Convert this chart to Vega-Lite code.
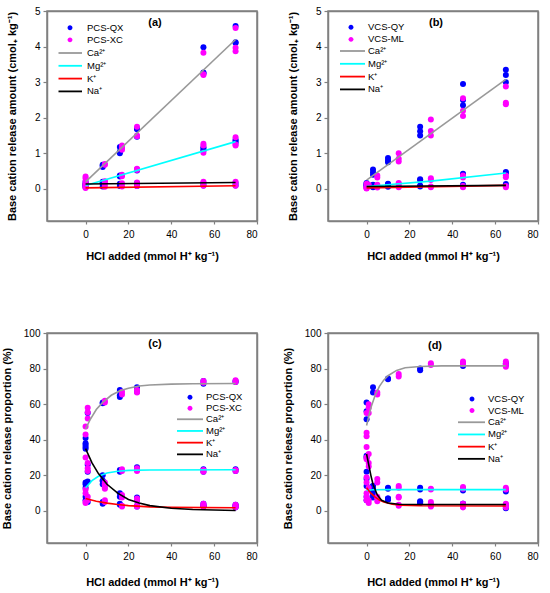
{
  "$schema": "https://vega.github.io/schema/vega-lite/v6.json",
  "padding": {"left": 0, "top": 5, "right": 2, "bottom": 2},
  "background": "white",
  "config": {
    "font": "Liberation Sans",
    "view": {"stroke": "#808080", "strokeWidth": 1.5},
    "axis": {
      "domain": true, "domainColor": "#808080", "domainWidth": 1.5, "grid": false, "ticks": true, "tickColor": "#808080", "tickWidth": 1.2, "tickSize": 4,
      "labelFont": "Liberation Sans", "labelFontSize": 10, "labelColor": "#000000", "labelPadding": 3,
      "titleFont": "Liberation Sans", "titleFontSize": 11, "titleFontWeight": "bold", "titleColor": "#000000"
    },
    "legend": {
      "orient": "none", "padding": 0, "labelFont": "Liberation Sans", "labelFontSize": 9.5, "labelColor": "#000000", "labelOffset": 4
    },
    "title": {"font": "Liberation Sans", "fontSize": 11, "fontWeight": "bold", "anchor": "middle"}
  },
  "columns": 2,
  "spacing": {"row": 65, "column": 22},
  "resolve": {
    "scale": {"color": "independent", "stroke": "independent", "x": "independent", "y": "independent"},
    "legend": {"color": "independent", "stroke": "independent"}
  },
  "datasets": {
    "pts": [
      {"panel":"a","sample":"PCS-QX","ion":"Ca²⁺","x":0,"y":0.15},{"panel":"a","sample":"PCS-QX","ion":"Ca²⁺","x":0,"y":0.2},{"panel":"a","sample":"PCS-QX","ion":"Ca²⁺","x":0,"y":0.12},
      {"panel":"a","sample":"PCS-QX","ion":"Ca²⁺","x":8,"y":0.62},{"panel":"a","sample":"PCS-QX","ion":"Ca²⁺","x":8,"y":0.66},{"panel":"a","sample":"PCS-QX","ion":"Ca²⁺","x":8,"y":0.68},
      {"panel":"a","sample":"PCS-QX","ion":"Ca²⁺","x":16,"y":1.18},{"panel":"a","sample":"PCS-QX","ion":"Ca²⁺","x":16,"y":1.0},{"panel":"a","sample":"PCS-QX","ion":"Ca²⁺","x":16,"y":1.05},
      {"panel":"a","sample":"PCS-QX","ion":"Ca²⁺","x":24,"y":1.68},{"panel":"a","sample":"PCS-QX","ion":"Ca²⁺","x":24,"y":1.47},{"panel":"a","sample":"PCS-QX","ion":"Ca²⁺","x":24,"y":1.7},
      {"panel":"a","sample":"PCS-QX","ion":"Ca²⁺","x":55,"y":3.98},{"panel":"a","sample":"PCS-QX","ion":"Ca²⁺","x":55,"y":3.27},{"panel":"a","sample":"PCS-QX","ion":"Ca²⁺","x":55,"y":3.25},
      {"panel":"a","sample":"PCS-QX","ion":"Ca²⁺","x":70,"y":4.58},{"panel":"a","sample":"PCS-QX","ion":"Ca²⁺","x":70,"y":4.1},{"panel":"a","sample":"PCS-QX","ion":"Ca²⁺","x":70,"y":4.12},
      {"panel":"a","sample":"PCS-QX","ion":"Mg²⁺","x":0,"y":0.1},{"panel":"a","sample":"PCS-QX","ion":"Mg²⁺","x":0,"y":0.08},
      {"panel":"a","sample":"PCS-QX","ion":"Mg²⁺","x":8,"y":0.2},{"panel":"a","sample":"PCS-QX","ion":"Mg²⁺","x":8,"y":0.18},
      {"panel":"a","sample":"PCS-QX","ion":"Mg²⁺","x":16,"y":0.38},{"panel":"a","sample":"PCS-QX","ion":"Mg²⁺","x":16,"y":0.35},
      {"panel":"a","sample":"PCS-QX","ion":"Mg²⁺","x":24,"y":0.55},{"panel":"a","sample":"PCS-QX","ion":"Mg²⁺","x":24,"y":0.52},
      {"panel":"a","sample":"PCS-QX","ion":"Mg²⁺","x":55,"y":1.17},{"panel":"a","sample":"PCS-QX","ion":"Mg²⁺","x":55,"y":1.12},{"panel":"a","sample":"PCS-QX","ion":"Mg²⁺","x":55,"y":1.08},
      {"panel":"a","sample":"PCS-QX","ion":"Mg²⁺","x":70,"y":1.35},{"panel":"a","sample":"PCS-QX","ion":"Mg²⁺","x":70,"y":1.3},{"panel":"a","sample":"PCS-QX","ion":"Mg²⁺","x":70,"y":1.38},
      {"panel":"a","sample":"PCS-QX","ion":"K⁺","x":0,"y":0.05},{"panel":"a","sample":"PCS-QX","ion":"K⁺","x":8,"y":0.07},{"panel":"a","sample":"PCS-QX","ion":"K⁺","x":16,"y":0.08},
      {"panel":"a","sample":"PCS-QX","ion":"K⁺","x":24,"y":0.08},{"panel":"a","sample":"PCS-QX","ion":"K⁺","x":55,"y":0.1},{"panel":"a","sample":"PCS-QX","ion":"K⁺","x":70,"y":0.1},
      {"panel":"a","sample":"PCS-QX","ion":"Na⁺","x":0,"y":0.13},{"panel":"a","sample":"PCS-QX","ion":"Na⁺","x":8,"y":0.15},{"panel":"a","sample":"PCS-QX","ion":"Na⁺","x":16,"y":0.15},
      {"panel":"a","sample":"PCS-QX","ion":"Na⁺","x":24,"y":0.17},{"panel":"a","sample":"PCS-QX","ion":"Na⁺","x":55,"y":0.17},{"panel":"a","sample":"PCS-QX","ion":"Na⁺","x":70,"y":0.17},
      {"panel":"a","sample":"PCS-XC","ion":"Ca²⁺","x":0,"y":0.35},{"panel":"a","sample":"PCS-XC","ion":"Ca²⁺","x":0,"y":0.3},{"panel":"a","sample":"PCS-XC","ion":"Ca²⁺","x":0,"y":0.22},
      {"panel":"a","sample":"PCS-XC","ion":"Ca²⁺","x":9,"y":0.7},{"panel":"a","sample":"PCS-XC","ion":"Ca²⁺","x":9,"y":0.68},
      {"panel":"a","sample":"PCS-XC","ion":"Ca²⁺","x":17,"y":1.22},{"panel":"a","sample":"PCS-XC","ion":"Ca²⁺","x":17,"y":1.1},{"panel":"a","sample":"PCS-XC","ion":"Ca²⁺","x":17,"y":1.15},
      {"panel":"a","sample":"PCS-XC","ion":"Ca²⁺","x":24,"y":1.75},{"panel":"a","sample":"PCS-XC","ion":"Ca²⁺","x":24,"y":1.5},{"panel":"a","sample":"PCS-XC","ion":"Ca²⁺","x":24,"y":1.48},
      {"panel":"a","sample":"PCS-XC","ion":"Ca²⁺","x":55,"y":3.83},{"panel":"a","sample":"PCS-XC","ion":"Ca²⁺","x":55,"y":3.22},{"panel":"a","sample":"PCS-XC","ion":"Ca²⁺","x":55,"y":3.2},
      {"panel":"a","sample":"PCS-XC","ion":"Ca²⁺","x":70,"y":4.52},{"panel":"a","sample":"PCS-XC","ion":"Ca²⁺","x":70,"y":3.97},{"panel":"a","sample":"PCS-XC","ion":"Ca²⁺","x":70,"y":3.87},
      {"panel":"a","sample":"PCS-XC","ion":"Mg²⁺","x":0,"y":0.12},{"panel":"a","sample":"PCS-XC","ion":"Mg²⁺","x":0,"y":0.15},
      {"panel":"a","sample":"PCS-XC","ion":"Mg²⁺","x":9,"y":0.22},{"panel":"a","sample":"PCS-XC","ion":"Mg²⁺","x":9,"y":0.2},
      {"panel":"a","sample":"PCS-XC","ion":"Mg²⁺","x":17,"y":0.4},{"panel":"a","sample":"PCS-XC","ion":"Mg²⁺","x":17,"y":0.36},
      {"panel":"a","sample":"PCS-XC","ion":"Mg²⁺","x":24,"y":0.57},{"panel":"a","sample":"PCS-XC","ion":"Mg²⁺","x":24,"y":0.53},
      {"panel":"a","sample":"PCS-XC","ion":"Mg²⁺","x":55,"y":1.27},{"panel":"a","sample":"PCS-XC","ion":"Mg²⁺","x":55,"y":1.02},{"panel":"a","sample":"PCS-XC","ion":"Mg²⁺","x":55,"y":1.22},
      {"panel":"a","sample":"PCS-XC","ion":"Mg²⁺","x":70,"y":1.45},{"panel":"a","sample":"PCS-XC","ion":"Mg²⁺","x":70,"y":1.22},{"panel":"a","sample":"PCS-XC","ion":"Mg²⁺","x":70,"y":1.25},
      {"panel":"a","sample":"PCS-XC","ion":"K⁺","x":0,"y":0.03},{"panel":"a","sample":"PCS-XC","ion":"K⁺","x":0,"y":0.05},{"panel":"a","sample":"PCS-XC","ion":"K⁺","x":9,"y":0.06},
      {"panel":"a","sample":"PCS-XC","ion":"K⁺","x":17,"y":0.07},{"panel":"a","sample":"PCS-XC","ion":"K⁺","x":24,"y":0.08},{"panel":"a","sample":"PCS-XC","ion":"K⁺","x":55,"y":0.09},{"panel":"a","sample":"PCS-XC","ion":"K⁺","x":70,"y":0.09},
      {"panel":"a","sample":"PCS-XC","ion":"Na⁺","x":0,"y":0.1},{"panel":"a","sample":"PCS-XC","ion":"Na⁺","x":9,"y":0.14},{"panel":"a","sample":"PCS-XC","ion":"Na⁺","x":17,"y":0.16},
      {"panel":"a","sample":"PCS-XC","ion":"Na⁺","x":24,"y":0.18},{"panel":"a","sample":"PCS-XC","ion":"Na⁺","x":55,"y":0.2},{"panel":"a","sample":"PCS-XC","ion":"Na⁺","x":70,"y":0.2},

      {"panel":"b","sample":"VCS-QY","ion":"Ca²⁺","x":0,"y":0.17},{"panel":"b","sample":"VCS-QY","ion":"Ca²⁺","x":0,"y":0.12},
      {"panel":"b","sample":"VCS-QY","ion":"Ca²⁺","x":3,"y":0.55},{"panel":"b","sample":"VCS-QY","ion":"Ca²⁺","x":3,"y":0.47},{"panel":"b","sample":"VCS-QY","ion":"Ca²⁺","x":3,"y":0.4},
      {"panel":"b","sample":"VCS-QY","ion":"Ca²⁺","x":10,"y":0.87},{"panel":"b","sample":"VCS-QY","ion":"Ca²⁺","x":10,"y":0.8},{"panel":"b","sample":"VCS-QY","ion":"Ca²⁺","x":10,"y":0.75},
      {"panel":"b","sample":"VCS-QY","ion":"Ca²⁺","x":25,"y":1.75},{"panel":"b","sample":"VCS-QY","ion":"Ca²⁺","x":25,"y":1.62},{"panel":"b","sample":"VCS-QY","ion":"Ca²⁺","x":25,"y":1.5},
      {"panel":"b","sample":"VCS-QY","ion":"Ca²⁺","x":45,"y":2.95},{"panel":"b","sample":"VCS-QY","ion":"Ca²⁺","x":45,"y":2.5},{"panel":"b","sample":"VCS-QY","ion":"Ca²⁺","x":45,"y":2.35},
      {"panel":"b","sample":"VCS-QY","ion":"Ca²⁺","x":65,"y":3.35},{"panel":"b","sample":"VCS-QY","ion":"Ca²⁺","x":65,"y":3.2},{"panel":"b","sample":"VCS-QY","ion":"Ca²⁺","x":65,"y":3.0},
      {"panel":"b","sample":"VCS-QY","ion":"Mg²⁺","x":0,"y":0.1},{"panel":"b","sample":"VCS-QY","ion":"Mg²⁺","x":0,"y":0.15},
      {"panel":"b","sample":"VCS-QY","ion":"Mg²⁺","x":3,"y":0.1},{"panel":"b","sample":"VCS-QY","ion":"Mg²⁺","x":3,"y":0.12},
      {"panel":"b","sample":"VCS-QY","ion":"Mg²⁺","x":10,"y":0.15},{"panel":"b","sample":"VCS-QY","ion":"Mg²⁺","x":10,"y":0.13},
      {"panel":"b","sample":"VCS-QY","ion":"Mg²⁺","x":25,"y":0.27},{"panel":"b","sample":"VCS-QY","ion":"Mg²⁺","x":25,"y":0.25},
      {"panel":"b","sample":"VCS-QY","ion":"Mg²⁺","x":45,"y":0.43},{"panel":"b","sample":"VCS-QY","ion":"Mg²⁺","x":45,"y":0.4},
      {"panel":"b","sample":"VCS-QY","ion":"Mg²⁺","x":65,"y":0.48},{"panel":"b","sample":"VCS-QY","ion":"Mg²⁺","x":65,"y":0.45},
      {"panel":"b","sample":"VCS-QY","ion":"K⁺","x":0,"y":0.05},{"panel":"b","sample":"VCS-QY","ion":"K⁺","x":3,"y":0.05},{"panel":"b","sample":"VCS-QY","ion":"K⁺","x":10,"y":0.06},
      {"panel":"b","sample":"VCS-QY","ion":"K⁺","x":25,"y":0.07},{"panel":"b","sample":"VCS-QY","ion":"K⁺","x":45,"y":0.08},{"panel":"b","sample":"VCS-QY","ion":"K⁺","x":65,"y":0.1},
      {"panel":"b","sample":"VCS-QY","ion":"Na⁺","x":0,"y":0.08},{"panel":"b","sample":"VCS-QY","ion":"Na⁺","x":3,"y":0.07},{"panel":"b","sample":"VCS-QY","ion":"Na⁺","x":10,"y":0.08},
      {"panel":"b","sample":"VCS-QY","ion":"Na⁺","x":25,"y":0.1},{"panel":"b","sample":"VCS-QY","ion":"Na⁺","x":45,"y":0.12},{"panel":"b","sample":"VCS-QY","ion":"Na⁺","x":65,"y":0.14},
      {"panel":"b","sample":"VCS-ML","ion":"Ca²⁺","x":0,"y":0.15},{"panel":"b","sample":"VCS-ML","ion":"Ca²⁺","x":0,"y":0.08},{"panel":"b","sample":"VCS-ML","ion":"Ca²⁺","x":1,"y":0.12},
      {"panel":"b","sample":"VCS-ML","ion":"Ca²⁺","x":5,"y":0.38},{"panel":"b","sample":"VCS-ML","ion":"Ca²⁺","x":5,"y":0.32},
      {"panel":"b","sample":"VCS-ML","ion":"Ca²⁺","x":15,"y":1.0},{"panel":"b","sample":"VCS-ML","ion":"Ca²⁺","x":15,"y":0.85},{"panel":"b","sample":"VCS-ML","ion":"Ca²⁺","x":15,"y":0.77},
      {"panel":"b","sample":"VCS-ML","ion":"Ca²⁺","x":30,"y":1.95},{"panel":"b","sample":"VCS-ML","ion":"Ca²⁺","x":30,"y":1.63},{"panel":"b","sample":"VCS-ML","ion":"Ca²⁺","x":30,"y":1.5},
      {"panel":"b","sample":"VCS-ML","ion":"Ca²⁺","x":45,"y":2.55},{"panel":"b","sample":"VCS-ML","ion":"Ca²⁺","x":45,"y":2.2},{"panel":"b","sample":"VCS-ML","ion":"Ca²⁺","x":45,"y":2.05},
      {"panel":"b","sample":"VCS-ML","ion":"Ca²⁺","x":65,"y":2.88},{"panel":"b","sample":"VCS-ML","ion":"Ca²⁺","x":65,"y":2.42},{"panel":"b","sample":"VCS-ML","ion":"Ca²⁺","x":65,"y":2.38},
      {"panel":"b","sample":"VCS-ML","ion":"Mg²⁺","x":0,"y":0.05},{"panel":"b","sample":"VCS-ML","ion":"Mg²⁺","x":0,"y":0.03},
      {"panel":"b","sample":"VCS-ML","ion":"Mg²⁺","x":5,"y":0.1},{"panel":"b","sample":"VCS-ML","ion":"Mg²⁺","x":5,"y":0.12},
      {"panel":"b","sample":"VCS-ML","ion":"Mg²⁺","x":15,"y":0.17},{"panel":"b","sample":"VCS-ML","ion":"Mg²⁺","x":15,"y":0.15},
      {"panel":"b","sample":"VCS-ML","ion":"Mg²⁺","x":30,"y":0.3},{"panel":"b","sample":"VCS-ML","ion":"Mg²⁺","x":30,"y":0.25},
      {"panel":"b","sample":"VCS-ML","ion":"Mg²⁺","x":45,"y":0.38},{"panel":"b","sample":"VCS-ML","ion":"Mg²⁺","x":45,"y":0.32},
      {"panel":"b","sample":"VCS-ML","ion":"Mg²⁺","x":65,"y":0.38},{"panel":"b","sample":"VCS-ML","ion":"Mg²⁺","x":65,"y":0.33},
      {"panel":"b","sample":"VCS-ML","ion":"K⁺","x":0,"y":0.01},{"panel":"b","sample":"VCS-ML","ion":"K⁺","x":5,"y":0.04},{"panel":"b","sample":"VCS-ML","ion":"K⁺","x":15,"y":0.05},
      {"panel":"b","sample":"VCS-ML","ion":"K⁺","x":30,"y":0.05},{"panel":"b","sample":"VCS-ML","ion":"K⁺","x":45,"y":0.05},{"panel":"b","sample":"VCS-ML","ion":"K⁺","x":65,"y":0.05},
      {"panel":"b","sample":"VCS-ML","ion":"Na⁺","x":0,"y":0.03},{"panel":"b","sample":"VCS-ML","ion":"Na⁺","x":5,"y":0.06},{"panel":"b","sample":"VCS-ML","ion":"Na⁺","x":15,"y":0.07},
      {"panel":"b","sample":"VCS-ML","ion":"Na⁺","x":30,"y":0.07},{"panel":"b","sample":"VCS-ML","ion":"Na⁺","x":45,"y":0.08},{"panel":"b","sample":"VCS-ML","ion":"Na⁺","x":65,"y":0.08},

      {"panel":"c","sample":"PCS-QX","ion":"Ca²⁺","x":0,"y":41},{"panel":"c","sample":"PCS-QX","ion":"Ca²⁺","x":0,"y":38},{"panel":"c","sample":"PCS-QX","ion":"Ca²⁺","x":0,"y":36},
      {"panel":"c","sample":"PCS-QX","ion":"Ca²⁺","x":1,"y":55},{"panel":"c","sample":"PCS-QX","ion":"Ca²⁺","x":8,"y":60.5},{"panel":"c","sample":"PCS-QX","ion":"Ca²⁺","x":8,"y":61},
      {"panel":"c","sample":"PCS-QX","ion":"Ca²⁺","x":16,"y":68},{"panel":"c","sample":"PCS-QX","ion":"Ca²⁺","x":16,"y":65},{"panel":"c","sample":"PCS-QX","ion":"Ca²⁺","x":16,"y":64},
      {"panel":"c","sample":"PCS-QX","ion":"Ca²⁺","x":24,"y":69.5},{"panel":"c","sample":"PCS-QX","ion":"Ca²⁺","x":24,"y":67},
      {"panel":"c","sample":"PCS-QX","ion":"Ca²⁺","x":55,"y":73},{"panel":"c","sample":"PCS-QX","ion":"Ca²⁺","x":55,"y":71.5},
      {"panel":"c","sample":"PCS-QX","ion":"Ca²⁺","x":70,"y":73},{"panel":"c","sample":"PCS-QX","ion":"Ca²⁺","x":70,"y":72.5},
      {"panel":"c","sample":"PCS-QX","ion":"Mg²⁺","x":0,"y":16},{"panel":"c","sample":"PCS-QX","ion":"Mg²⁺","x":0,"y":15},{"panel":"c","sample":"PCS-QX","ion":"Mg²⁺","x":0,"y":13},
      {"panel":"c","sample":"PCS-QX","ion":"Mg²⁺","x":1,"y":16.5},{"panel":"c","sample":"PCS-QX","ion":"Mg²⁺","x":1,"y":22},
      {"panel":"c","sample":"PCS-QX","ion":"Mg²⁺","x":8,"y":20},{"panel":"c","sample":"PCS-QX","ion":"Mg²⁺","x":8,"y":17},
      {"panel":"c","sample":"PCS-QX","ion":"Mg²⁺","x":16,"y":23},{"panel":"c","sample":"PCS-QX","ion":"Mg²⁺","x":16,"y":22},
      {"panel":"c","sample":"PCS-QX","ion":"Mg²⁺","x":24,"y":24.5},{"panel":"c","sample":"PCS-QX","ion":"Mg²⁺","x":24,"y":23},
      {"panel":"c","sample":"PCS-QX","ion":"Mg²⁺","x":55,"y":23.5},{"panel":"c","sample":"PCS-QX","ion":"Mg²⁺","x":55,"y":22},
      {"panel":"c","sample":"PCS-QX","ion":"Mg²⁺","x":70,"y":23.5},{"panel":"c","sample":"PCS-QX","ion":"Mg²⁺","x":70,"y":22.5},
      {"panel":"c","sample":"PCS-QX","ion":"K⁺","x":0,"y":8},{"panel":"c","sample":"PCS-QX","ion":"K⁺","x":0,"y":6},{"panel":"c","sample":"PCS-QX","ion":"K⁺","x":1,"y":5},
      {"panel":"c","sample":"PCS-QX","ion":"K⁺","x":8,"y":5},{"panel":"c","sample":"PCS-QX","ion":"K⁺","x":8,"y":4},
      {"panel":"c","sample":"PCS-QX","ion":"K⁺","x":16,"y":4},{"panel":"c","sample":"PCS-QX","ion":"K⁺","x":16,"y":3.5},
      {"panel":"c","sample":"PCS-QX","ion":"K⁺","x":24,"y":3},{"panel":"c","sample":"PCS-QX","ion":"K⁺","x":24,"y":2.5},
      {"panel":"c","sample":"PCS-QX","ion":"K⁺","x":55,"y":3},{"panel":"c","sample":"PCS-QX","ion":"K⁺","x":55,"y":2.5},
      {"panel":"c","sample":"PCS-QX","ion":"K⁺","x":70,"y":2.5},{"panel":"c","sample":"PCS-QX","ion":"K⁺","x":70,"y":2},
      {"panel":"c","sample":"PCS-QX","ion":"Na⁺","x":0,"y":37},{"panel":"c","sample":"PCS-QX","ion":"Na⁺","x":0,"y":35},{"panel":"c","sample":"PCS-QX","ion":"Na⁺","x":1,"y":26},
      {"panel":"c","sample":"PCS-QX","ion":"Na⁺","x":8,"y":17},{"panel":"c","sample":"PCS-QX","ion":"Na⁺","x":8,"y":15},
      {"panel":"c","sample":"PCS-QX","ion":"Na⁺","x":16,"y":10},{"panel":"c","sample":"PCS-QX","ion":"Na⁺","x":16,"y":8},
      {"panel":"c","sample":"PCS-QX","ion":"Na⁺","x":24,"y":7.5},{"panel":"c","sample":"PCS-QX","ion":"Na⁺","x":24,"y":6},
      {"panel":"c","sample":"PCS-QX","ion":"Na⁺","x":55,"y":4},{"panel":"c","sample":"PCS-QX","ion":"Na⁺","x":55,"y":3},
      {"panel":"c","sample":"PCS-QX","ion":"Na⁺","x":70,"y":3.5},{"panel":"c","sample":"PCS-QX","ion":"Na⁺","x":70,"y":3},
      {"panel":"c","sample":"PCS-XC","ion":"Ca²⁺","x":0,"y":47.5},{"panel":"c","sample":"PCS-XC","ion":"Ca²⁺","x":0,"y":43},
      {"panel":"c","sample":"PCS-XC","ion":"Ca²⁺","x":1,"y":58},{"panel":"c","sample":"PCS-XC","ion":"Ca²⁺","x":1,"y":55.5},{"panel":"c","sample":"PCS-XC","ion":"Ca²⁺","x":1,"y":52},
      {"panel":"c","sample":"PCS-XC","ion":"Ca²⁺","x":9,"y":62},{"panel":"c","sample":"PCS-XC","ion":"Ca²⁺","x":9,"y":61},
      {"panel":"c","sample":"PCS-XC","ion":"Ca²⁺","x":17,"y":67},{"panel":"c","sample":"PCS-XC","ion":"Ca²⁺","x":17,"y":65.5},
      {"panel":"c","sample":"PCS-XC","ion":"Ca²⁺","x":24,"y":68},{"panel":"c","sample":"PCS-XC","ion":"Ca²⁺","x":24,"y":66.5},
      {"panel":"c","sample":"PCS-XC","ion":"Ca²⁺","x":55,"y":73},{"panel":"c","sample":"PCS-XC","ion":"Ca²⁺","x":55,"y":72},
      {"panel":"c","sample":"PCS-XC","ion":"Ca²⁺","x":70,"y":73.5},{"panel":"c","sample":"PCS-XC","ion":"Ca²⁺","x":70,"y":72.5},
      {"panel":"c","sample":"PCS-XC","ion":"Mg²⁺","x":0,"y":12},{"panel":"c","sample":"PCS-XC","ion":"Mg²⁺","x":0,"y":10},
      {"panel":"c","sample":"PCS-XC","ion":"Mg²⁺","x":1,"y":27},{"panel":"c","sample":"PCS-XC","ion":"Mg²⁺","x":1,"y":24},{"panel":"c","sample":"PCS-XC","ion":"Mg²⁺","x":1,"y":22.5},
      {"panel":"c","sample":"PCS-XC","ion":"Mg²⁺","x":9,"y":16},{"panel":"c","sample":"PCS-XC","ion":"Mg²⁺","x":9,"y":14},{"panel":"c","sample":"PCS-XC","ion":"Mg²⁺","x":9,"y":13},
      {"panel":"c","sample":"PCS-XC","ion":"Mg²⁺","x":17,"y":23.5},{"panel":"c","sample":"PCS-XC","ion":"Mg²⁺","x":17,"y":22.5},
      {"panel":"c","sample":"PCS-XC","ion":"Mg²⁺","x":24,"y":24},{"panel":"c","sample":"PCS-XC","ion":"Mg²⁺","x":24,"y":22.5},
      {"panel":"c","sample":"PCS-XC","ion":"Mg²⁺","x":55,"y":23},{"panel":"c","sample":"PCS-XC","ion":"Mg²⁺","x":55,"y":22},
      {"panel":"c","sample":"PCS-XC","ion":"Mg²⁺","x":70,"y":23},{"panel":"c","sample":"PCS-XC","ion":"Mg²⁺","x":70,"y":22.5},
      {"panel":"c","sample":"PCS-XC","ion":"K⁺","x":0,"y":5},{"panel":"c","sample":"PCS-XC","ion":"K⁺","x":0,"y":4.5},{"panel":"c","sample":"PCS-XC","ion":"K⁺","x":1,"y":6},
      {"panel":"c","sample":"PCS-XC","ion":"K⁺","x":9,"y":6},{"panel":"c","sample":"PCS-XC","ion":"K⁺","x":9,"y":5},
      {"panel":"c","sample":"PCS-XC","ion":"K⁺","x":17,"y":3},{"panel":"c","sample":"PCS-XC","ion":"K⁺","x":17,"y":2.5},
      {"panel":"c","sample":"PCS-XC","ion":"K⁺","x":24,"y":3},{"panel":"c","sample":"PCS-XC","ion":"K⁺","x":24,"y":2.5},
      {"panel":"c","sample":"PCS-XC","ion":"K⁺","x":55,"y":3.5},{"panel":"c","sample":"PCS-XC","ion":"K⁺","x":55,"y":2.5},
      {"panel":"c","sample":"PCS-XC","ion":"K⁺","x":70,"y":3},{"panel":"c","sample":"PCS-XC","ion":"K⁺","x":70,"y":2},
      {"panel":"c","sample":"PCS-XC","ion":"Na⁺","x":0,"y":30},{"panel":"c","sample":"PCS-XC","ion":"Na⁺","x":1,"y":8},
      {"panel":"c","sample":"PCS-XC","ion":"Na⁺","x":9,"y":15},{"panel":"c","sample":"PCS-XC","ion":"Na⁺","x":9,"y":12.5},
      {"panel":"c","sample":"PCS-XC","ion":"Na⁺","x":17,"y":9},{"panel":"c","sample":"PCS-XC","ion":"Na⁺","x":17,"y":7.5},
      {"panel":"c","sample":"PCS-XC","ion":"Na⁺","x":24,"y":7},{"panel":"c","sample":"PCS-XC","ion":"Na⁺","x":24,"y":6},
      {"panel":"c","sample":"PCS-XC","ion":"Na⁺","x":55,"y":4},{"panel":"c","sample":"PCS-XC","ion":"Na⁺","x":55,"y":3},
      {"panel":"c","sample":"PCS-XC","ion":"Na⁺","x":70,"y":3.5},{"panel":"c","sample":"PCS-XC","ion":"Na⁺","x":70,"y":2.5},

      {"panel":"d","sample":"VCS-QY","ion":"Ca²⁺","x":0,"y":61},{"panel":"d","sample":"VCS-QY","ion":"Ca²⁺","x":0,"y":56},{"panel":"d","sample":"VCS-QY","ion":"Ca²⁺","x":0,"y":51.5},
      {"panel":"d","sample":"VCS-QY","ion":"Ca²⁺","x":3,"y":69.5},{"panel":"d","sample":"VCS-QY","ion":"Ca²⁺","x":3,"y":66.5},
      {"panel":"d","sample":"VCS-QY","ion":"Ca²⁺","x":10,"y":74.5},{"panel":"d","sample":"VCS-QY","ion":"Ca²⁺","x":10,"y":74},
      {"panel":"d","sample":"VCS-QY","ion":"Ca²⁺","x":25,"y":80},{"panel":"d","sample":"VCS-QY","ion":"Ca²⁺","x":25,"y":79},
      {"panel":"d","sample":"VCS-QY","ion":"Ca²⁺","x":45,"y":82},{"panel":"d","sample":"VCS-QY","ion":"Ca²⁺","x":45,"y":81.5},
      {"panel":"d","sample":"VCS-QY","ion":"Ca²⁺","x":65,"y":83},{"panel":"d","sample":"VCS-QY","ion":"Ca²⁺","x":65,"y":82},
      {"panel":"d","sample":"VCS-QY","ion":"Mg²⁺","x":0,"y":22},{"panel":"d","sample":"VCS-QY","ion":"Mg²⁺","x":0,"y":18},{"panel":"d","sample":"VCS-QY","ion":"Mg²⁺","x":0,"y":14},
      {"panel":"d","sample":"VCS-QY","ion":"Mg²⁺","x":3,"y":14},{"panel":"d","sample":"VCS-QY","ion":"Mg²⁺","x":3,"y":12},{"panel":"d","sample":"VCS-QY","ion":"Mg²⁺","x":3,"y":11},
      {"panel":"d","sample":"VCS-QY","ion":"Mg²⁺","x":10,"y":13},{"panel":"d","sample":"VCS-QY","ion":"Mg²⁺","x":10,"y":12.5},
      {"panel":"d","sample":"VCS-QY","ion":"Mg²⁺","x":25,"y":13},{"panel":"d","sample":"VCS-QY","ion":"Mg²⁺","x":25,"y":12},
      {"panel":"d","sample":"VCS-QY","ion":"Mg²⁺","x":45,"y":12.5},{"panel":"d","sample":"VCS-QY","ion":"Mg²⁺","x":45,"y":11.5},
      {"panel":"d","sample":"VCS-QY","ion":"Mg²⁺","x":65,"y":12},{"panel":"d","sample":"VCS-QY","ion":"Mg²⁺","x":65,"y":11},
      {"panel":"d","sample":"VCS-QY","ion":"K⁺","x":0,"y":8},{"panel":"d","sample":"VCS-QY","ion":"K⁺","x":0,"y":6},
      {"panel":"d","sample":"VCS-QY","ion":"K⁺","x":3,"y":9},{"panel":"d","sample":"VCS-QY","ion":"K⁺","x":3,"y":7.5},
      {"panel":"d","sample":"VCS-QY","ion":"K⁺","x":10,"y":7},{"panel":"d","sample":"VCS-QY","ion":"K⁺","x":10,"y":6.5},
      {"panel":"d","sample":"VCS-QY","ion":"K⁺","x":25,"y":5.5},{"panel":"d","sample":"VCS-QY","ion":"K⁺","x":25,"y":4.5},
      {"panel":"d","sample":"VCS-QY","ion":"K⁺","x":45,"y":4},{"panel":"d","sample":"VCS-QY","ion":"K⁺","x":45,"y":3},
      {"panel":"d","sample":"VCS-QY","ion":"K⁺","x":65,"y":2.5},{"panel":"d","sample":"VCS-QY","ion":"K⁺","x":65,"y":1.5},
      {"panel":"d","sample":"VCS-QY","ion":"Na⁺","x":0,"y":31},{"panel":"d","sample":"VCS-QY","ion":"Na⁺","x":0,"y":30},
      {"panel":"d","sample":"VCS-QY","ion":"Na⁺","x":3,"y":14},{"panel":"d","sample":"VCS-QY","ion":"Na⁺","x":3,"y":12},
      {"panel":"d","sample":"VCS-QY","ion":"Na⁺","x":10,"y":7},{"panel":"d","sample":"VCS-QY","ion":"Na⁺","x":10,"y":6.5},
      {"panel":"d","sample":"VCS-QY","ion":"Na⁺","x":25,"y":5},{"panel":"d","sample":"VCS-QY","ion":"Na⁺","x":25,"y":4.5},
      {"panel":"d","sample":"VCS-QY","ion":"Na⁺","x":45,"y":4},{"panel":"d","sample":"VCS-QY","ion":"Na⁺","x":45,"y":3.5},
      {"panel":"d","sample":"VCS-QY","ion":"Na⁺","x":65,"y":3.5},{"panel":"d","sample":"VCS-QY","ion":"Na⁺","x":65,"y":3},
      {"panel":"d","sample":"VCS-ML","ion":"Ca²⁺","x":0,"y":55},{"panel":"d","sample":"VCS-ML","ion":"Ca²⁺","x":0,"y":44},{"panel":"d","sample":"VCS-ML","ion":"Ca²⁺","x":0,"y":42},
      {"panel":"d","sample":"VCS-ML","ion":"Ca²⁺","x":1,"y":60},{"panel":"d","sample":"VCS-ML","ion":"Ca²⁺","x":1,"y":58},{"panel":"d","sample":"VCS-ML","ion":"Ca²⁺","x":1,"y":55},
      {"panel":"d","sample":"VCS-ML","ion":"Ca²⁺","x":5,"y":66.5},{"panel":"d","sample":"VCS-ML","ion":"Ca²⁺","x":5,"y":65.5},
      {"panel":"d","sample":"VCS-ML","ion":"Ca²⁺","x":15,"y":77},{"panel":"d","sample":"VCS-ML","ion":"Ca²⁺","x":15,"y":75.5},
      {"panel":"d","sample":"VCS-ML","ion":"Ca²⁺","x":30,"y":83},{"panel":"d","sample":"VCS-ML","ion":"Ca²⁺","x":30,"y":82},
      {"panel":"d","sample":"VCS-ML","ion":"Ca²⁺","x":45,"y":84},{"panel":"d","sample":"VCS-ML","ion":"Ca²⁺","x":45,"y":83},{"panel":"d","sample":"VCS-ML","ion":"Ca²⁺","x":45,"y":82.5},
      {"panel":"d","sample":"VCS-ML","ion":"Ca²⁺","x":65,"y":84},{"panel":"d","sample":"VCS-ML","ion":"Ca²⁺","x":65,"y":82.5},{"panel":"d","sample":"VCS-ML","ion":"Ca²⁺","x":65,"y":81},
      {"panel":"d","sample":"VCS-ML","ion":"Mg²⁺","x":0,"y":19},{"panel":"d","sample":"VCS-ML","ion":"Mg²⁺","x":0,"y":16},{"panel":"d","sample":"VCS-ML","ion":"Mg²⁺","x":1,"y":13},
      {"panel":"d","sample":"VCS-ML","ion":"Mg²⁺","x":5,"y":18},{"panel":"d","sample":"VCS-ML","ion":"Mg²⁺","x":5,"y":16},
      {"panel":"d","sample":"VCS-ML","ion":"Mg²⁺","x":15,"y":14},{"panel":"d","sample":"VCS-ML","ion":"Mg²⁺","x":15,"y":13},
      {"panel":"d","sample":"VCS-ML","ion":"Mg²⁺","x":30,"y":12.5},{"panel":"d","sample":"VCS-ML","ion":"Mg²⁺","x":30,"y":12},
      {"panel":"d","sample":"VCS-ML","ion":"Mg²⁺","x":45,"y":13.5},{"panel":"d","sample":"VCS-ML","ion":"Mg²⁺","x":45,"y":12.5},
      {"panel":"d","sample":"VCS-ML","ion":"Mg²⁺","x":65,"y":13},{"panel":"d","sample":"VCS-ML","ion":"Mg²⁺","x":65,"y":12},
      {"panel":"d","sample":"VCS-ML","ion":"K⁺","x":0,"y":10},{"panel":"d","sample":"VCS-ML","ion":"K⁺","x":0,"y":8},{"panel":"d","sample":"VCS-ML","ion":"K⁺","x":0,"y":6},
      {"panel":"d","sample":"VCS-ML","ion":"K⁺","x":1,"y":6},{"panel":"d","sample":"VCS-ML","ion":"K⁺","x":1,"y":4.5},
      {"panel":"d","sample":"VCS-ML","ion":"K⁺","x":5,"y":7},{"panel":"d","sample":"VCS-ML","ion":"K⁺","x":5,"y":5.5},
      {"panel":"d","sample":"VCS-ML","ion":"K⁺","x":15,"y":3.5},{"panel":"d","sample":"VCS-ML","ion":"K⁺","x":15,"y":3},
      {"panel":"d","sample":"VCS-ML","ion":"K⁺","x":30,"y":3},{"panel":"d","sample":"VCS-ML","ion":"K⁺","x":30,"y":2.5},
      {"panel":"d","sample":"VCS-ML","ion":"K⁺","x":45,"y":2.5},{"panel":"d","sample":"VCS-ML","ion":"K⁺","x":45,"y":2},
      {"panel":"d","sample":"VCS-ML","ion":"K⁺","x":65,"y":2.5},{"panel":"d","sample":"VCS-ML","ion":"K⁺","x":65,"y":2},
      {"panel":"d","sample":"VCS-ML","ion":"Na⁺","x":0,"y":36},{"panel":"d","sample":"VCS-ML","ion":"Na⁺","x":0,"y":30},{"panel":"d","sample":"VCS-ML","ion":"Na⁺","x":0,"y":29},
      {"panel":"d","sample":"VCS-ML","ion":"Na⁺","x":1,"y":32},{"panel":"d","sample":"VCS-ML","ion":"Na⁺","x":1,"y":27},{"panel":"d","sample":"VCS-ML","ion":"Na⁺","x":1,"y":25},
      {"panel":"d","sample":"VCS-ML","ion":"Na⁺","x":5,"y":8},{"panel":"d","sample":"VCS-ML","ion":"Na⁺","x":15,"y":8},{"panel":"d","sample":"VCS-ML","ion":"Na⁺","x":15,"y":7.5},
      {"panel":"d","sample":"VCS-ML","ion":"Na⁺","x":30,"y":5},{"panel":"d","sample":"VCS-ML","ion":"Na⁺","x":30,"y":4},
      {"panel":"d","sample":"VCS-ML","ion":"Na⁺","x":45,"y":4},{"panel":"d","sample":"VCS-ML","ion":"Na⁺","x":45,"y":3.5},
      {"panel":"d","sample":"VCS-ML","ion":"Na⁺","x":65,"y":4},{"panel":"d","sample":"VCS-ML","ion":"Na⁺","x":65,"y":3.5}
    ],
    "fits": [
      {"panel":"a","ion":"Ca²⁺","x":0,"y":0.2},{"panel":"a","ion":"Ca²⁺","x":70,"y":4.2},
      {"panel":"a","ion":"Mg²⁺","x":0,"y":0.1},{"panel":"a","ion":"Mg²⁺","x":70,"y":1.33},
      {"panel":"a","ion":"K⁺","x":0,"y":0.03},{"panel":"a","ion":"K⁺","x":70,"y":0.09},
      {"panel":"a","ion":"Na⁺","x":0,"y":0.14},{"panel":"a","ion":"Na⁺","x":70,"y":0.18},
      {"panel":"b","ion":"Ca²⁺","x":0,"y":0.25},{"panel":"b","ion":"Ca²⁺","x":65,"y":3.08},
      {"panel":"b","ion":"Mg²⁺","x":0,"y":0.07},{"panel":"b","ion":"Mg²⁺","x":30,"y":0.22},{"panel":"b","ion":"Mg²⁺","x":65,"y":0.45},
      {"panel":"b","ion":"K⁺","x":0,"y":0.03},{"panel":"b","ion":"K⁺","x":65,"y":0.1},
      {"panel":"b","ion":"Na⁺","x":0,"y":0.07},{"panel":"b","ion":"Na⁺","x":65,"y":0.1},
      {"panel":"c","ion":"Ca²⁺","x":0,"y":46},{"panel":"c","ion":"Ca²⁺","x":2,"y":51},{"panel":"c","ion":"Ca²⁺","x":5,"y":57},{"panel":"c","ion":"Ca²⁺","x":8,"y":61},
      {"panel":"c","ion":"Ca²⁺","x":12,"y":65},{"panel":"c","ion":"Ca²⁺","x":16,"y":67.5},{"panel":"c","ion":"Ca²⁺","x":20,"y":69},{"panel":"c","ion":"Ca²⁺","x":25,"y":70.2},
      {"panel":"c","ion":"Ca²⁺","x":30,"y":70.8},{"panel":"c","ion":"Ca²⁺","x":40,"y":71.3},{"panel":"c","ion":"Ca²⁺","x":50,"y":71.5},{"panel":"c","ion":"Ca²⁺","x":70,"y":71.6},
      {"panel":"c","ion":"Mg²⁺","x":0,"y":13},{"panel":"c","ion":"Mg²⁺","x":3,"y":17},{"panel":"c","ion":"Mg²⁺","x":6,"y":19.5},{"panel":"c","ion":"Mg²⁺","x":10,"y":21.3},
      {"panel":"c","ion":"Mg²⁺","x":15,"y":22.3},{"panel":"c","ion":"Mg²⁺","x":20,"y":22.8},{"panel":"c","ion":"Mg²⁺","x":30,"y":23},{"panel":"c","ion":"Mg²⁺","x":70,"y":23.2},
      {"panel":"c","ion":"K⁺","x":0,"y":7},{"panel":"c","ion":"K⁺","x":5,"y":5.5},{"panel":"c","ion":"K⁺","x":10,"y":4.4},{"panel":"c","ion":"K⁺","x":15,"y":3.6},
      {"panel":"c","ion":"K⁺","x":20,"y":3},{"panel":"c","ion":"K⁺","x":30,"y":2.3},{"panel":"c","ion":"K⁺","x":40,"y":2},{"panel":"c","ion":"K⁺","x":70,"y":1.8},
      {"panel":"c","ion":"Na⁺","x":0,"y":35},{"panel":"c","ion":"Na⁺","x":3,"y":27},{"panel":"c","ion":"Na⁺","x":6,"y":21},{"panel":"c","ion":"Na⁺","x":10,"y":15},
      {"panel":"c","ion":"Na⁺","x":15,"y":10},{"panel":"c","ion":"Na⁺","x":20,"y":6.5},{"panel":"c","ion":"Na⁺","x":25,"y":4.5},{"panel":"c","ion":"Na⁺","x":30,"y":3},
      {"panel":"c","ion":"Na⁺","x":40,"y":1.5},{"panel":"c","ion":"Na⁺","x":50,"y":0.8},{"panel":"c","ion":"Na⁺","x":70,"y":0.3},
      {"panel":"d","ion":"Ca²⁺","x":0,"y":48},{"panel":"d","ion":"Ca²⁺","x":2,"y":58},{"panel":"d","ion":"Ca²⁺","x":4,"y":65},{"panel":"d","ion":"Ca²⁺","x":6,"y":70},
      {"panel":"d","ion":"Ca²⁺","x":8,"y":73.5},{"panel":"d","ion":"Ca²⁺","x":10,"y":76},{"panel":"d","ion":"Ca²⁺","x":14,"y":79},{"panel":"d","ion":"Ca²⁺","x":18,"y":80.5},
      {"panel":"d","ion":"Ca²⁺","x":25,"y":81.2},{"panel":"d","ion":"Ca²⁺","x":35,"y":81.5},{"panel":"d","ion":"Ca²⁺","x":65,"y":81.5},
      {"panel":"d","ion":"Mg²⁺","x":0,"y":11.5},{"panel":"d","ion":"Mg²⁺","x":3,"y":11.9},{"panel":"d","ion":"Mg²⁺","x":10,"y":12},{"panel":"d","ion":"Mg²⁺","x":65,"y":12},
      {"panel":"d","ion":"K⁺","x":0,"y":13},{"panel":"d","ion":"K⁺","x":2,"y":10},{"panel":"d","ion":"K⁺","x":4,"y":7.8},{"panel":"d","ion":"K⁺","x":6,"y":6.2},
      {"panel":"d","ion":"K⁺","x":8,"y":5},{"panel":"d","ion":"K⁺","x":12,"y":3.8},{"panel":"d","ion":"K⁺","x":16,"y":3.2},{"panel":"d","ion":"K⁺","x":25,"y":2.9},{"panel":"d","ion":"K⁺","x":65,"y":2.8},
      {"panel":"d","ion":"Na⁺","x":0,"y":32},{"panel":"d","ion":"Na⁺","x":1,"y":26},{"panel":"d","ion":"Na⁺","x":2,"y":20},{"panel":"d","ion":"Na⁺","x":3,"y":15},
      {"panel":"d","ion":"Na⁺","x":5,"y":9},{"panel":"d","ion":"Na⁺","x":7,"y":6},{"panel":"d","ion":"Na⁺","x":10,"y":4.5},{"panel":"d","ion":"Na⁺","x":15,"y":3.8},
      {"panel":"d","ion":"Na⁺","x":25,"y":3.6},{"panel":"d","ion":"Na⁺","x":65,"y":3.6}
    ]
  },
  "concat": [
    {
      "width": 210, "height": 210,
      "title": {"text": "(a)", "offset": 0, "baseline": "top", "dy": 22, "dx": 3},
      "resolve": {"axis": {"x": "independent", "y": "independent"}},
      "layer": [
        {
          "data": {"name": "pts"},
          "transform": [{"filter": "datum.panel === 'a'"}],
          "mark": {"type": "circle", "size": 36, "opacity": 1},
          "encoding": {
            "x": {"field": "x", "type": "quantitative", "scale": {"domain": [-18, 80], "nice": false},
                  "axis": {"values": [0, 20, 40, 60, 80], "title": "HCl added (mmol H⁺ kg⁻¹)", "titleY": 29, "tickSize": 3, "labelPadding": 5}},
            "y": {"field": "y", "type": "quantitative", "scale": {"domain": [-0.9, 5], "nice": false, "zero": false},
                  "axis": {"values": [0, 1, 2, 3, 4, 5], "title": "Base cation release amount (cmol₊ kg⁻¹)", "titleX": -30}},
            "color": {"field": "sample", "type": "nominal", "scale": {"domain": ["PCS-QX", "PCS-XC"], "range": ["#0000ff", "#ff00ff"]},
                      "legend": {"title": null, "symbolType": "M-4.37,0A1,1,0,1,1,-2.37,0A1,1,0,1,1,-4.37,0Z", "symbolSize": 24, "legendX": 26.5, "legendY": 12, "labelOffset": 4, "rowPadding": 1.1}}
          }
        },
        {
          "data": {"name": "fits"},
          "transform": [{"filter": "datum.panel === 'a'"}],
          "mark": {"type": "line", "strokeWidth": 1.6},
          "encoding": {
            "x": {"field": "x", "type": "quantitative", "axis": {"orient": "top", "labels": false, "ticks": false, "title": null, "domain": true}},
            "y": {"field": "y", "type": "quantitative", "axis": {"orient": "right", "labels": false, "ticks": false, "title": null, "domain": true}},
            "stroke": {"field": "ion", "type": "nominal", "scale": {"domain": ["Ca²⁺", "Mg²⁺", "K⁺", "Na⁺"], "range": ["#999999", "#00ffff", "#ff0000", "#000000"]},
                       "legend": {"title": null, "symbolType": "M-4.875,0H1", "symbolSize": 64, "symbolStrokeWidth": 1.8, "legendX": 26, "legendY": 37, "labelOffset": 4, "rowPadding": 2.8}}
          }
        }
      ]
    },
    {
      "width": 210, "height": 210,
      "title": {"text": "(b)", "offset": 0, "baseline": "top", "dy": 22, "dx": 3},
      "resolve": {"axis": {"x": "independent", "y": "independent"}},
      "layer": [
        {
          "data": {"name": "pts"},
          "transform": [{"filter": "datum.panel === 'b'"}],
          "mark": {"type": "circle", "size": 36, "opacity": 1},
          "encoding": {
            "x": {"field": "x", "type": "quantitative", "scale": {"domain": [-18, 80], "nice": false},
                  "axis": {"values": [0, 20, 40, 60, 80], "title": "HCl added (mmol H⁺ kg⁻¹)", "titleY": 29, "tickSize": 3, "labelPadding": 5}},
            "y": {"field": "y", "type": "quantitative", "scale": {"domain": [-0.9, 5], "nice": false, "zero": false},
                  "axis": {"values": [0, 1, 2, 3, 4, 5], "title": "Base cation release amount (cmol₊ kg⁻¹)", "titleX": -30}},
            "color": {"field": "sample", "type": "nominal", "scale": {"domain": ["VCS-QY", "VCS-ML"], "range": ["#0000ff", "#ff00ff"]},
                      "legend": {"title": null, "symbolType": "M-4.37,0A1,1,0,1,1,-2.37,0A1,1,0,1,1,-4.37,0Z", "symbolSize": 24, "legendX": 26.5, "legendY": 11.5, "labelOffset": 4, "rowPadding": 1.1}}
          }
        },
        {
          "data": {"name": "fits"},
          "transform": [{"filter": "datum.panel === 'b'"}],
          "mark": {"type": "line", "strokeWidth": 1.6},
          "encoding": {
            "x": {"field": "x", "type": "quantitative", "axis": {"orient": "top", "labels": false, "ticks": false, "title": null, "domain": true}},
            "y": {"field": "y", "type": "quantitative", "axis": {"orient": "right", "labels": false, "ticks": false, "title": null, "domain": true}},
            "stroke": {"field": "ion", "type": "nominal", "scale": {"domain": ["Ca²⁺", "Mg²⁺", "K⁺", "Na⁺"], "range": ["#999999", "#00ffff", "#ff0000", "#000000"]},
                       "legend": {"title": null, "symbolType": "M-4.75,0H1.5", "symbolSize": 64, "symbolStrokeWidth": 1.8, "legendX": 26, "legendY": 35, "labelOffset": 4, "rowPadding": 2.8}}
          }
        }
      ]
    },
    {
      "width": 210, "height": 210,
      "title": {"text": "(c)", "offset": 0, "baseline": "top", "dy": 21, "dx": 3},
      "resolve": {"axis": {"x": "independent", "y": "independent"}},
      "layer": [
        {
          "data": {"name": "pts"},
          "transform": [{"filter": "datum.panel === 'c'"}],
          "mark": {"type": "circle", "size": 36, "opacity": 1},
          "encoding": {
            "x": {"field": "x", "type": "quantitative", "scale": {"domain": [-18, 80], "nice": false},
                  "axis": {"values": [0, 20, 40, 60, 80], "title": "HCl added (mmol H⁺ kg⁻¹)", "titleY": 33, "tickSize": 3, "labelPadding": 5}},
            "y": {"field": "y", "type": "quantitative", "scale": {"domain": [-18, 100], "nice": false, "zero": false},
                  "axis": {"values": [0, 20, 40, 60, 80, 100], "title": "Base cation release proportion (%)", "titleX": -35}},
            "color": {"field": "sample", "type": "nominal", "scale": {"domain": ["PCS-QX", "PCS-XC"], "range": ["#0000ff", "#ff00ff"]},
                      "legend": {"title": null, "symbolType": "M-3.96,0A1,1,0,1,1,-1.96,0A1,1,0,1,1,-3.96,0Z", "symbolSize": 24, "legendX": 145.5, "legendY": 59.5, "labelOffset": 4, "rowPadding": 0}}
          }
        },
        {
          "data": {"name": "fits"},
          "transform": [{"filter": "datum.panel === 'c'"}],
          "mark": {"type": "line", "strokeWidth": 1.6},
          "encoding": {
            "x": {"field": "x", "type": "quantitative", "axis": {"orient": "top", "labels": false, "ticks": false, "title": null, "domain": true}},
            "y": {"field": "y", "type": "quantitative", "axis": {"orient": "right", "labels": false, "ticks": false, "title": null, "domain": true}},
            "stroke": {"field": "ion", "type": "nominal", "scale": {"domain": ["Ca²⁺", "Mg²⁺", "K⁺", "Na⁺"], "range": ["#999999", "#00ffff", "#ff0000", "#000000"]},
                       "legend": {"title": null, "symbolType": "M-5,0H1.5", "symbolSize": 64, "symbolStrokeWidth": 1.8, "legendX": 145, "legendY": 81.25, "labelOffset": 4, "rowPadding": 1.7}}
          }
        }
      ]
    },
    {
      "width": 210, "height": 210,
      "title": {"text": "(d)", "offset": 0, "baseline": "top", "dy": 23, "dx": 2},
      "resolve": {"axis": {"x": "independent", "y": "independent"}},
      "layer": [
        {
          "data": {"name": "pts"},
          "transform": [{"filter": "datum.panel === 'd'"}],
          "mark": {"type": "circle", "size": 36, "opacity": 1},
          "encoding": {
            "x": {"field": "x", "type": "quantitative", "scale": {"domain": [-18, 80], "nice": false},
                  "axis": {"values": [0, 20, 40, 60, 80], "title": "HCl added (mmol H⁺ kg⁻¹)", "titleY": 33, "tickSize": 3, "labelPadding": 5}},
            "y": {"field": "y", "type": "quantitative", "scale": {"domain": [-18, 100], "nice": false, "zero": false},
                  "axis": {"values": [0, 20, 40, 60, 80, 100], "title": "Base cation release proportion (%)", "titleX": -35}},
            "color": {"field": "sample", "type": "nominal", "scale": {"domain": ["VCS-QY", "VCS-ML"], "range": ["#0000ff", "#ff00ff"]},
                      "legend": {"title": null, "symbolType": "M-3.96,0A1,1,0,1,1,-1.96,0A1,1,0,1,1,-3.96,0Z", "symbolSize": 24, "legendX": 146.5, "legendY": 61.25, "labelOffset": 4, "rowPadding": 0.5}}
          }
        },
        {
          "data": {"name": "fits"},
          "transform": [{"filter": "datum.panel === 'd'"}],
          "mark": {"type": "line", "strokeWidth": 1.6},
          "encoding": {
            "x": {"field": "x", "type": "quantitative", "axis": {"orient": "top", "labels": false, "ticks": false, "title": null, "domain": true}},
            "y": {"field": "y", "type": "quantitative", "axis": {"orient": "right", "labels": false, "ticks": false, "title": null, "domain": true}},
            "stroke": {"field": "ion", "type": "nominal", "scale": {"domain": ["Ca²⁺", "Mg²⁺", "K⁺", "Na⁺"], "range": ["#999999", "#00ffff", "#ff0000", "#000000"]},
                       "legend": {"title": null, "symbolType": "M-5.25,0H1.5", "symbolSize": 64, "symbolStrokeWidth": 1.8, "legendX": 146, "legendY": 84.25, "labelOffset": 4, "rowPadding": 2.2}}
          }
        }
      ]
    }
  ]
}
